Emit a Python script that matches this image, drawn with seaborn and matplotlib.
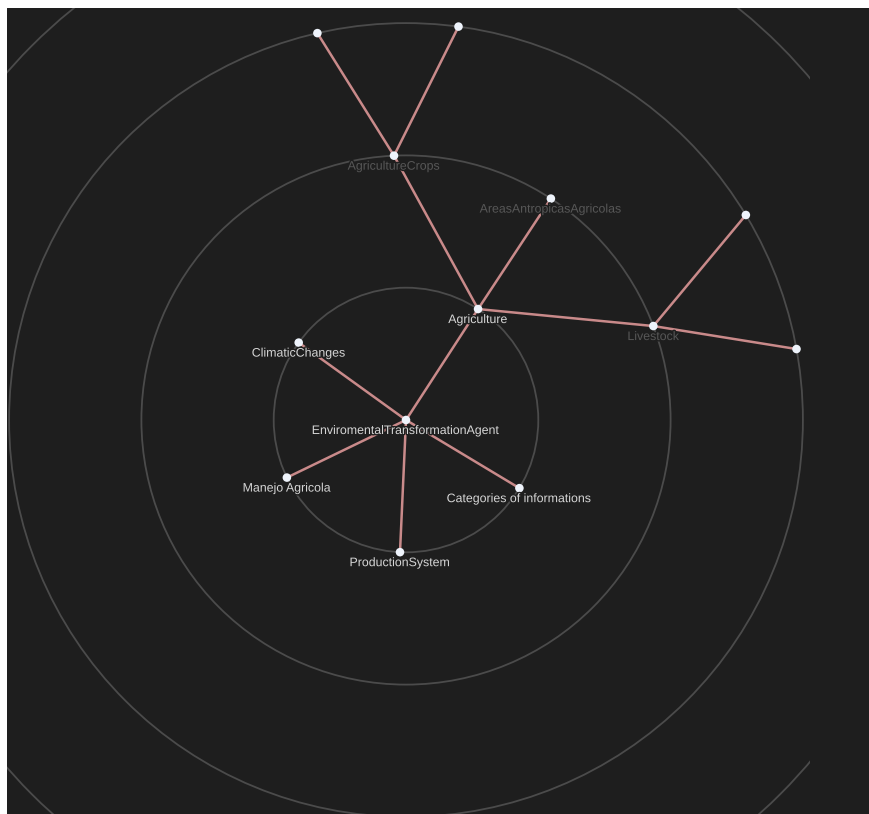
import numpy as np
import pandas as pd
import seaborn as sns
import matplotlib.pyplot as plt
import matplotlib.patheffects as pe
from matplotlib.patches import Circle, Rectangle

# tree data: name, parent, depth (ring), angle in degrees
names = ['EnviromentalTransformationAgent', 'Agriculture', 'ClimaticChanges',
         'Manejo Agricola', 'ProductionSystem', 'Categories of informations',
         'AgricultureCrops', 'AreasAntropicasAgricolas', 'Livestock',
         'crop_a', 'crop_b', 'livestock_a', 'livestock_b']
parents = [None, 'EnviromentalTransformationAgent', 'EnviromentalTransformationAgent',
           'EnviromentalTransformationAgent', 'EnviromentalTransformationAgent',
           'EnviromentalTransformationAgent', 'Agriculture', 'Agriculture', 'Agriculture',
           'AgricultureCrops', 'AgricultureCrops', 'Livestock', 'Livestock']
depths = [0, 1, 1, 1, 1, 1, 2, 2, 2, 3, 3, 3, 3]
angles = [0, 57.0, 144.2, 205.8, 267.4, 329.0, 92.6, 56.8, 20.8, 102.9, 82.4, 31.1, 10.3]
rings = [1, 2, 3, 4]

# style
bg = '#1e1e1e'
edge_c = '#c98a8a'
node_c = '#eef3fb'
ring_c = '#4b4b4b'
unit = 132.3  # pixels per ring

df = pd.DataFrame({'name': names, 'parent': parents, 'depth': depths, 'angle': angles})
df['x'] = df['depth'] * np.cos(np.radians(df['angle']))
df['y'] = df['depth'] * np.sin(np.radians(df['angle']))
pos = df.set_index('name')[['x', 'y']]

# edges as long table for lineplot
rows = []
for i, r in df.dropna(subset=['parent']).iterrows():
    rows.append({'edge': i, 'x': pos.loc[r['parent'], 'x'], 'y': pos.loc[r['parent'], 'y']})
    rows.append({'edge': i, 'x': r['x'], 'y': r['y']})
edges = pd.DataFrame(rows)

# viz
W, H = 869, 814
fig = plt.figure(figsize=(W / 100, H / 100), dpi=100, facecolor='white')
ax = fig.add_axes([7 / W, 0, (W - 7) / W, (H - 8) / H])
ax.set_facecolor(bg)
cx, cy = 406, 420
x0, x1 = (7 - cx) / unit, (W - cx) / unit
y0, y1 = (cy - H) / unit, (cy - 8) / unit
ax.set_xlim(x0, x1)
ax.set_ylim(y0, y1)
ax.set_aspect('equal')
ax.axis('off')
ax.add_patch(Rectangle((x0, y0), x1 - x0, y1 - y0, color=bg, zorder=0))

# rings (clipped at the svg edge)
clip = Rectangle((x0, y0), (810 - 7) / unit, y1 - y0, transform=ax.transData)
for rr in rings:
    c = Circle((0, 0), rr, fill=False, ec=ring_c, lw=1.3, zorder=1)
    ax.add_patch(c)
    c.set_clip_path(clip)

# edges + nodes
sns.lineplot(data=edges, x='x', y='y', units='edge', estimator=None, sort=False,
             color=edge_c, lw=1.8, ax=ax, zorder=2)
sns.scatterplot(data=df, x='x', y='y', color=node_c, s=38, edgecolor='none',
                ax=ax, zorder=3)
ax.set_xlabel('')
ax.set_ylabel('')

# labels
halo = [pe.withStroke(linewidth=2, foreground=bg)]
for _, r in df.iterrows():
    if r['depth'] > 2:
        continue
    col = '#d6d6d6' if r['depth'] < 2 else '#575757'
    ax.text(r['x'], r['y'] - 11 / unit, r['name'], ha='center', va='center',
            fontsize=8.9, family='Liberation Sans', color=col,
            path_effects=halo, zorder=4)

plt.savefig('out.png', dpi=100, facecolor='white')
